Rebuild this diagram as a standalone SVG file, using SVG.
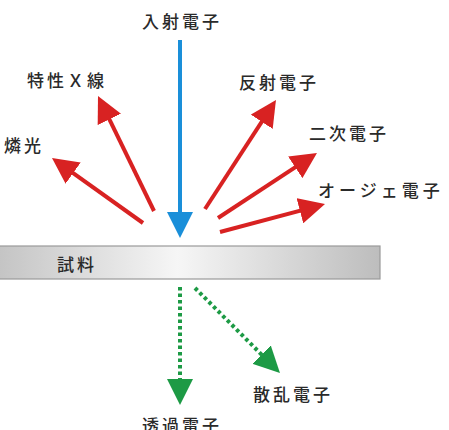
<svg xmlns="http://www.w3.org/2000/svg" width="449" height="430" viewBox="0 0 449 430">
<style>
text{font-family:"Noto Sans CJK JP","Noto Sans",sans-serif;font-size:17px;font-weight:500;letter-spacing:3px;fill:#2a2a2a;}
.red{stroke:#d82222;stroke-width:4;fill:none;}
.blue{stroke:#1a8fd9;stroke-width:4;fill:none;}
.green{stroke:#1d9a45;stroke-width:4;fill:none;stroke-dasharray:3.5 3;}
</style>
<defs>
<linearGradient id="bar" x1="0" y1="0" x2="1" y2="0">
<stop offset="0" stop-color="#c4c4c4"/>
<stop offset="0.47" stop-color="#f6f6f6"/>
<stop offset="1" stop-color="#bdbdbd"/>
</linearGradient>
<marker id="ar" markerUnits="userSpaceOnUse" markerWidth="26" markerHeight="26" refX="18" refY="13" orient="auto" viewBox="0 0 26 26">
<path d="M0,0 L26,13 L0,26 Z" fill="#d82222"/>
</marker>
<marker id="ab" markerUnits="userSpaceOnUse" markerWidth="26" markerHeight="26" refX="18" refY="13" orient="auto" viewBox="0 0 26 26">
<path d="M0,0 L26,13 L0,26 Z" fill="#1a8fd9"/>
</marker>
<marker id="ag" markerUnits="userSpaceOnUse" markerWidth="26" markerHeight="26" refX="18" refY="13" orient="auto" viewBox="0 0 26 26">
<path d="M0,0 L26,13 L0,26 Z" fill="#1d9a45"/>
</marker>
</defs>
<g id="sample">
<rect x="-2" y="246" width="382" height="33" fill="url(#bar)" stroke="#9a9a9a" stroke-width="1.2"/>
<text x="57" y="271">試料</text>
</g>
<g id="connectors">
<line class="blue" x1="180" y1="40" x2="180" y2="230" marker-end="url(#ab)"/>
<line class="red" x1="143" y1="223" x2="58.5" y2="162.6" marker-end="url(#ar)"/>
<line class="red" x1="154" y1="211" x2="101.5" y2="103.2" marker-end="url(#ar)"/>
<line class="red" x1="205" y1="209" x2="271.6" y2="106.7" marker-end="url(#ar)"/>
<line class="red" x1="218" y1="218" x2="310.3" y2="157.4" marker-end="url(#ar)"/>
<line class="red" x1="220" y1="232" x2="317.3" y2="206.1" marker-end="url(#ar)"/>
<line class="green" x1="180" y1="287" x2="180" y2="397" marker-end="url(#ag)"/>
<line class="green" x1="195" y1="288" x2="274.3" y2="367.3" marker-end="url(#ag)"/>
</g>
<g id="incident"><text x="142" y="28">入射電子</text></g>
<g id="xray"><text x="27" y="87">特性Ｘ線</text></g>
<g id="phosphor"><text x="4" y="152">燐光</text></g>
<g id="reflected"><text x="239" y="89">反射電子</text></g>
<g id="secondary"><text x="309" y="140">二次電子</text></g>
<g id="auger"><text x="318" y="197" style="letter-spacing:4px">オージェ電子</text></g>
<g id="scattered"><text x="253" y="401">散乱電子</text></g>
<g id="transmitted"><text x="142" y="432">透過電子</text></g>
</svg>
